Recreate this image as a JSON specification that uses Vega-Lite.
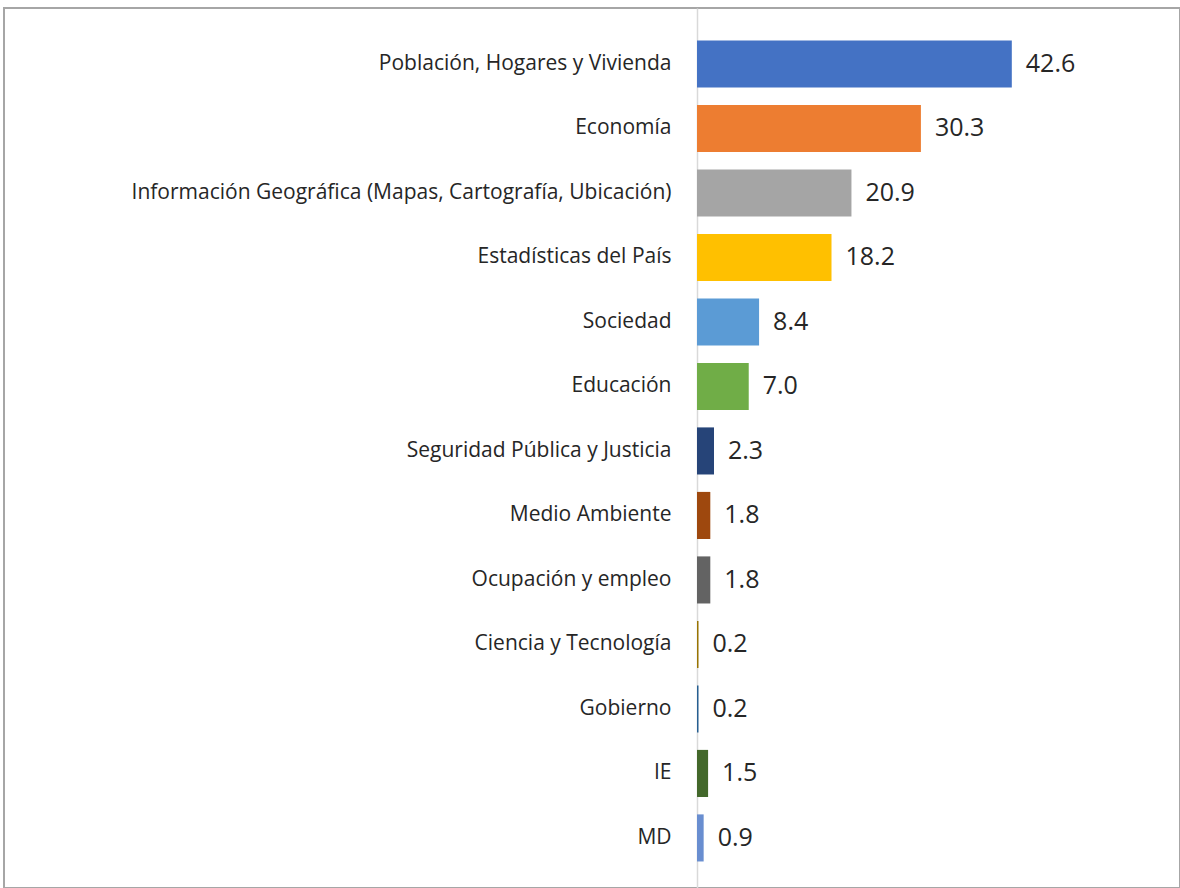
{
  "$schema": "https://vega.github.io/schema/vega-lite/v6.json",
  "autosize": {"type": "fit", "contains": "padding"},
  "width": 1180,
  "height": 888,
  "padding": {"left": 4, "top": 8, "right": 0, "bottom": 0},
  "background": "white",
  "config": {
    "view": {"stroke": "#A6A6A6", "strokeWidth": 2},
    "font": "Open Sans"
  },
  "data": {
    "values": [
      {"tema": "Población, Hogares y Vivienda", "valor": 42.6, "color": "#4472C4"},
      {"tema": "Economía", "valor": 30.3, "color": "#ED7D31"},
      {"tema": "Información Geográfica (Mapas, Cartografía, Ubicación)", "valor": 20.9, "color": "#A5A5A5"},
      {"tema": "Estadísticas del País", "valor": 18.2, "color": "#FFC000"},
      {"tema": "Sociedad", "valor": 8.4, "color": "#5B9BD5"},
      {"tema": "Educación", "valor": 7.0, "color": "#70AD47"},
      {"tema": "Seguridad Pública y Justicia", "valor": 2.3, "color": "#264478"},
      {"tema": "Medio Ambiente", "valor": 1.8, "color": "#9E480E"},
      {"tema": "Ocupación y empleo", "valor": 1.8, "color": "#636363"},
      {"tema": "Ciencia y Tecnología", "valor": 0.2, "color": "#997300"},
      {"tema": "Gobierno", "valor": 0.2, "color": "#255E91"},
      {"tema": "IE", "valor": 1.5, "color": "#43682B"},
      {"tema": "MD", "valor": 0.9, "color": "#698ED0"}
    ]
  },
  "encoding": {
    "y": {
      "field": "tema",
      "type": "nominal",
      "sort": null,
      "scale": {"paddingInner": 0.27, "paddingOuter": 0.457, "align": 0.55},
      "axis": {
        "title": null,
        "offset": -693,
        "ticks": false,
        "domainColor": "#D9D9D9",
        "domainWidth": 1.5,
        "labelFontSize": 21,
        "labelColor": "#262626",
        "labelPadding": 26,
        "labelLimit": 700
      }
    },
    "x": {
      "field": "valor",
      "type": "quantitative",
      "scale": {"domain": [-93.78, 65.36], "nice": false, "zero": false},
      "axis": null
    }
  },
  "layer": [
    {
      "mark": {"type": "bar"},
      "encoding": {
        "x2": {"datum": 0},
        "color": {"field": "color", "type": "nominal", "scale": null, "legend": null}
      }
    },
    {
      "mark": {"type": "text", "align": "left", "baseline": "middle", "dx": 14, "fontSize": 25, "color": "#262626"},
      "encoding": {
        "text": {"field": "valor", "type": "quantitative", "format": ".1f"}
      }
    }
  ]
}
